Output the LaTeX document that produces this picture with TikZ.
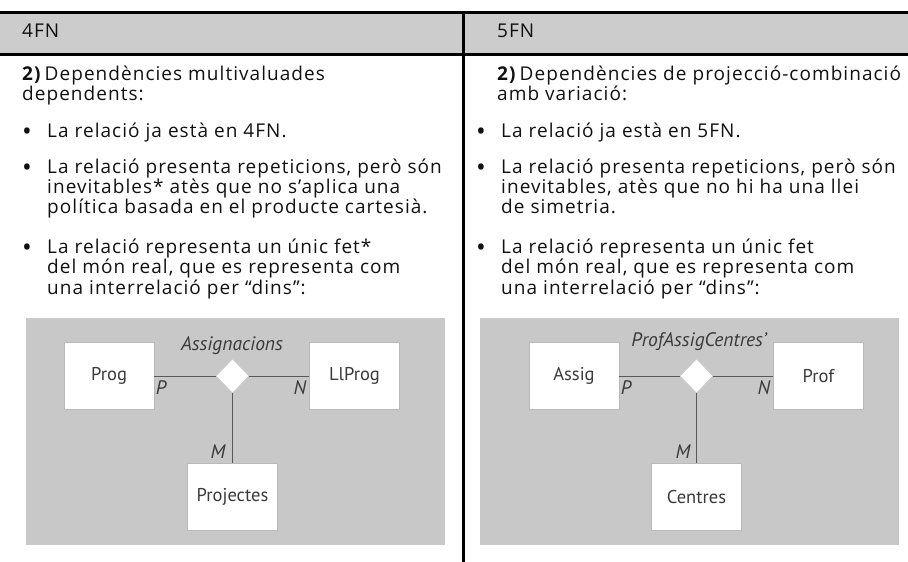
\documentclass[tikz,border=0pt]{standalone}
\usepackage{fontspec}
\setmainfont{Open Sans}[LetterSpace=5.5]
\newfontfamily\bulfont{Open Sans}
\newfontfamily\diagfont{PT Sans}
\usetikzlibrary{shapes.geometric}
\definecolor{hdrgray}{HTML}{CCCCCC}
\definecolor{diaggray}{HTML}{C8C8C8}
\definecolor{txtgray}{HTML}{111111}
\definecolor{dtxt}{HTML}{3A3A3A}
\begin{document}
\begin{tikzpicture}[x=1pt,y=-1pt,
  txt/.style={anchor=base west, inner sep=0pt, text=txtgray, font=\fontsize{19}{20}\selectfont},
  bul/.style={anchor=base, inner sep=0pt, text=txtgray, font=\bulfont\fontsize{26}{26}\selectfont},
  ent/.style={draw=gray!55, fill=white, minimum width=90pt, minimum height=67pt, inner sep=0pt, text=dtxt, font=\diagfont\fontsize{18.5}{20}\selectfont},
  rel/.style={diamond, fill=white, minimum width=32pt, minimum height=33pt, inner sep=0pt},
  conn/.style={draw=gray!70!black, line width=0.8pt},
  lbl/.style={inner sep=0pt, text=dtxt, font=\diagfont\itshape\fontsize{19.5}{20}\selectfont},
  rule/.style={line width=3pt, black}
]
\useasboundingbox (0,0) rectangle (908,562);
% header band
\fill[hdrgray] (0,12) rectangle (908,54);
\draw[rule] (0,12) -- (908,12);
\draw[rule] (0,54) -- (908,54);
\draw[rule] (463.5,12) -- (463.5,562);
\node[txt] (h1) at (22,37) {4FN};
\node[txt] (h2) at (497,37) {5FN};

% left column text
\node[txt] (l1) at (22,80) {\textbf{2)}\,Dependències multivaluades};
\node[txt] (l2) at (22,100) {dependents:};
\node[bul] (lb1) at (27,140) {•};
\node[txt] (l3) at (47,137) {La relació ja està en 4FN.};
\node[bul] (lb2) at (27,176) {•};
\node[txt] (l4) at (47,173) {La relació presenta repeticions, però són};
\node[txt] (l5) at (47,193) {inevitables* atès que no s’aplica una};
\node[txt] (l6) at (47,213) {política basada en el producte cartesià.};
\node[bul] (lb3) at (27,256) {•};
\node[txt] (l7) at (47,253) {La relació representa un únic fet*};
\node[txt] (l8) at (47,273) {del món real, que es representa com};
\node[txt] (l9) at (47,294) {una interrelació per “dins”:};

% right column text
\node[txt] (r1t) at (497,80) {\textbf{2)}\,Dependències de projecció-combinació};
\node[txt] (r2t) at (497,100) {amb variació:};
\node[bul] (rb1) at (481,140) {•};
\node[txt] (r3t) at (501,137) {La relació ja està en 5FN.};
\node[bul] (rb2) at (481,176) {•};
\node[txt] (r4t) at (501,173) {La relació presenta repeticions, però són};
\node[txt] (r5t) at (501,193) {inevitables, atès que no hi ha una llei};
\node[txt] (r6t) at (501,213) {de simetria.};
\node[bul] (rb3) at (481,256) {•};
\node[txt] (r7t) at (501,253) {La relació representa un únic fet};
\node[txt] (r8t) at (501,273) {del món real, que es representa com};
\node[txt] (r9t) at (501,294) {una interrelació per “dins”:};

% left diagram
\fill[diaggray] (26,318) rectangle (445,545);
\node[ent] (prog) at (109,376) {Prog};
\node[ent] (llprog) at (354.5,376) {LlProg};
\node[ent] (proj) at (232.5,497) {Projectes};
\node[rel] (d1) at (232.5,376) {};
\draw[conn] (prog.east) -- (d1.west);
\draw[conn] (d1.east) -- (llprog.west);
\draw[conn] (d1.south) -- (proj.north);
\node[lbl] (a1) at (232,346) {Assignacions};
\node[lbl] (p1) at (161,388) {P};
\node[lbl] (n1) at (300,388) {N};
\node[lbl] (m1) at (218,452) {M};

% right diagram
\fill[diaggray] (480,318) rectangle (899,545);
\node[ent] (assig) at (574,376) {Assig};
\node[ent] (prof) at (818.5,376) {Prof};
\node[ent] (cent) at (696.5,497) {Centres};
\node[rel] (d2) at (696.5,376) {};
\draw[conn] (assig.east) -- (d2.west);
\draw[conn] (d2.east) -- (prof.west);
\draw[conn] (d2.south) -- (cent.north);
\node[lbl] (a2) at (699,342) {ProfAssigCentres’};
\node[lbl] (p2) at (626,388) {P};
\node[lbl] (n2) at (764,388) {N};
\node[lbl] (m2) at (683,452) {M};
\end{tikzpicture}
\end{document}
